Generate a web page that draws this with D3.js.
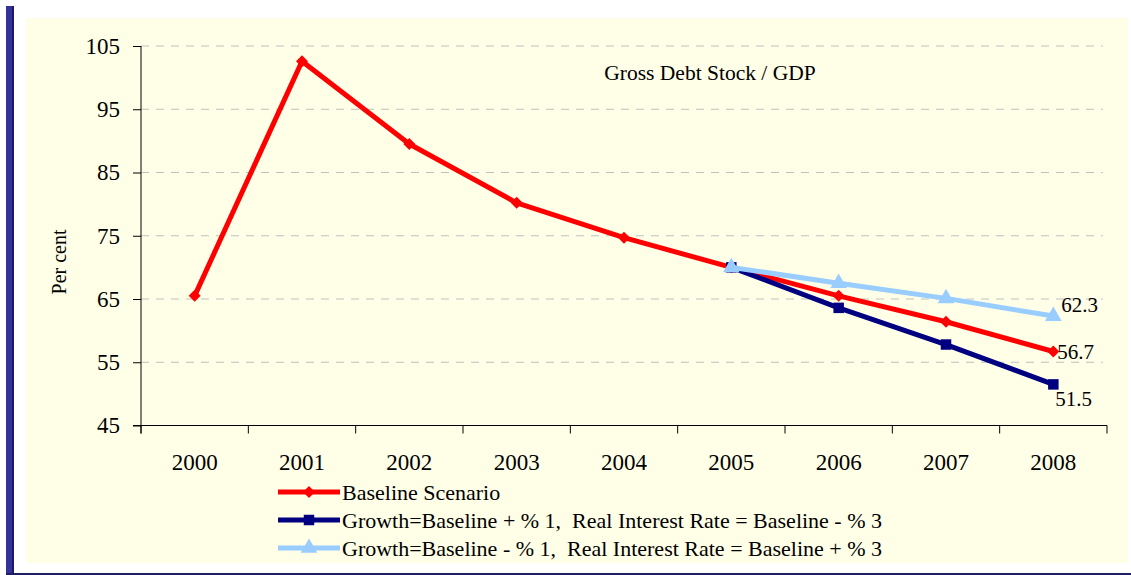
<!DOCTYPE html>
<html>
<head>
<meta charset="utf-8">
<script src="https://cdn.jsdelivr.net/npm/d3@7"></script>
<style>
  body { margin: 0; background: #fff; }
  text { font-family: "Liberation Serif", "Times New Roman", serif; fill: #000; white-space: pre; }
</style>
</head>
<body>
<svg id="chart" width="1131" height="575"></svg>
<script>
// data
var years = ["2000", "2001", "2002", "2003", "2004", "2005", "2006", "2007", "2008"];
var baseline = [65.5, 102.6, 89.5, 80.2, 74.7, 70.0, 65.5, 61.4, 56.7];
var highGrowth = [null, null, null, null, null, 70.0, 63.6, 57.8, 51.5];
var lowGrowth = [null, null, null, null, null, 70.0, 67.5, 65.1, 62.3];
var yTicks = [45, 55, 65, 75, 85, 95, 105];
var seriesNames = [
    "Baseline Scenario",
    "Growth=Baseline + % 1,  Real Interest Rate = Baseline - % 3",
    "Growth=Baseline - % 1,  Real Interest Rate = Baseline + % 3"
];

var series = [
    { name: seriesNames[0], values: baseline, color: "#ff0000", symbol: d3.symbolSquare, size: 72, rotate: 45, labelDx: 4, labelDy: 0 },
    { name: seriesNames[1], values: highGrowth, color: "#000080", symbol: d3.symbolSquare, size: 110, rotate: 0, labelDx: 2, labelDy: 14 },
    { name: seriesNames[2], values: lowGrowth, color: "#99ccff", symbol: d3.symbolTriangle, size: 120, rotate: 0, labelDx: 8, labelDy: -11 }
];

var svg = d3.select("#chart");

// frame
svg.append("rect").attr("x", 6).attr("y", 6).attr("width", 6).attr("height", 569).attr("fill", "#333399");
svg.append("rect").attr("x", 12).attr("y", 6).attr("width", 2).attr("height", 569).attr("fill", "#1a1a66");
svg.append("rect").attr("x", 6).attr("y", 573).attr("width", 1125).attr("height", 2).attr("fill", "#1f1f5f");
svg.append("rect").attr("x", 26).attr("y", 18).attr("width", 1102).attr("height", 545).attr("fill", "#ffffe8");

var plotLeft = 141, plotRight = 1107, plotTop = 46, plotBottom = 425.5;

var x = d3.scaleBand().domain(years).range([plotLeft, plotRight]);
var y = d3.scaleLinear().domain([45, 105]).range([plotBottom, plotTop]);

// grid
svg.append("g").selectAll("line")
    .data(yTicks.slice(1))
    .enter().append("line")
    .attr("x1", plotLeft).attr("x2", plotRight - 4)
    .attr("y1", function (d) { return y(d); })
    .attr("y2", function (d) { return y(d); })
    .attr("stroke", "#c0c0c0")
    .attr("stroke-width", 1)
    .attr("stroke-dasharray", "8,7");

// y axis
var yAxis = svg.append("g")
    .attr("transform", "translate(" + plotLeft + ",0)")
    .call(d3.axisLeft(y).tickValues(yTicks).tickSize(8).tickPadding(13));
yAxis.selectAll("text").style("font-size", "23px").style("font-family", "Liberation Serif");
yAxis.selectAll("path, line").attr("stroke", "#000");
yAxis.select(".domain").attr("d", "M0," + plotTop + "V" + (plotBottom + 8));

// x axis with ticks on category boundaries
var xAxis = svg.append("g").attr("transform", "translate(0," + plotBottom + ")");
xAxis.append("line").attr("x1", plotLeft - 8).attr("x2", plotRight).attr("stroke", "#000");
xAxis.selectAll(".tk")
    .data(d3.range(years.length + 1))
    .enter().append("line")
    .attr("x1", function (i) { return plotLeft + i * x.bandwidth(); })
    .attr("x2", function (i) { return plotLeft + i * x.bandwidth(); })
    .attr("y1", 0).attr("y2", 8)
    .attr("stroke", "#000");
xAxis.selectAll(".lbl")
    .data(years)
    .enter().append("text")
    .attr("x", function (d) { return x(d) + x.bandwidth() / 2; })
    .attr("y", 44)
    .attr("text-anchor", "middle")
    .style("font-size", "23px")
    .text(function (d) { return d; });

// titles
svg.append("text")
    .attr("x", 710).attr("y", 80)
    .attr("text-anchor", "middle")
    .style("font-size", "21.5px")
    .text("Gross Debt Stock / GDP");

svg.append("text")
    .attr("transform", "translate(66,262) rotate(-90)")
    .attr("text-anchor", "middle")
    .style("font-size", "20px")
    .text("Per cent");

// lines
var line = d3.line()
    .defined(function (d) { return d != null; })
    .x(function (d, i) { return x(years[i]) + x.bandwidth() / 2; })
    .y(function (d) { return y(d); });

series.forEach(function (s) {
    svg.append("path")
        .attr("d", line(s.values))
        .attr("fill", "none")
        .attr("stroke", s.color)
        .attr("stroke-width", 5)
        .attr("stroke-linejoin", "round");

    svg.append("g").selectAll("path")
        .data(s.values.map(function (v, i) { return { v: v, i: i }; }).filter(function (d) { return d.v != null; }))
        .enter().append("path")
        .attr("d", d3.symbol().type(s.symbol).size(s.size))
        .attr("transform", function (d) {
            return "translate(" + (x(years[d.i]) + x.bandwidth() / 2) + "," + y(d.v) + ") rotate(" + s.rotate + ")";
        })
        .attr("fill", s.color);
});

// end labels
series.forEach(function (s) {
    var last = s.values.length - 1;
    svg.append("text")
        .attr("x", x(years[last]) + x.bandwidth() / 2 + s.labelDx)
        .attr("y", y(s.values[last]) + s.labelDy)
        .attr("dy", "0.35em")
        .style("font-size", "21px")
        .text(s.values[last].toFixed(1));
});

// legend
var legend = svg.append("g").attr("transform", "translate(278,492)");
series.forEach(function (s, i) {
    var row = legend.append("g").attr("transform", "translate(0," + i * 28 + ")");
    row.append("line").attr("x1", 0).attr("x2", 62)
        .attr("stroke", s.color).attr("stroke-width", 5);
    row.append("path")
        .attr("d", d3.symbol().type(s.symbol).size(s.size))
        .attr("transform", "translate(31,0) rotate(" + s.rotate + ")")
        .attr("fill", s.color);
    row.append("text")
        .attr("x", 64).attr("dy", "0.35em")
        .style("font-size", "22px")
        .text(s.name);
});
</script>
</body>
</html>
